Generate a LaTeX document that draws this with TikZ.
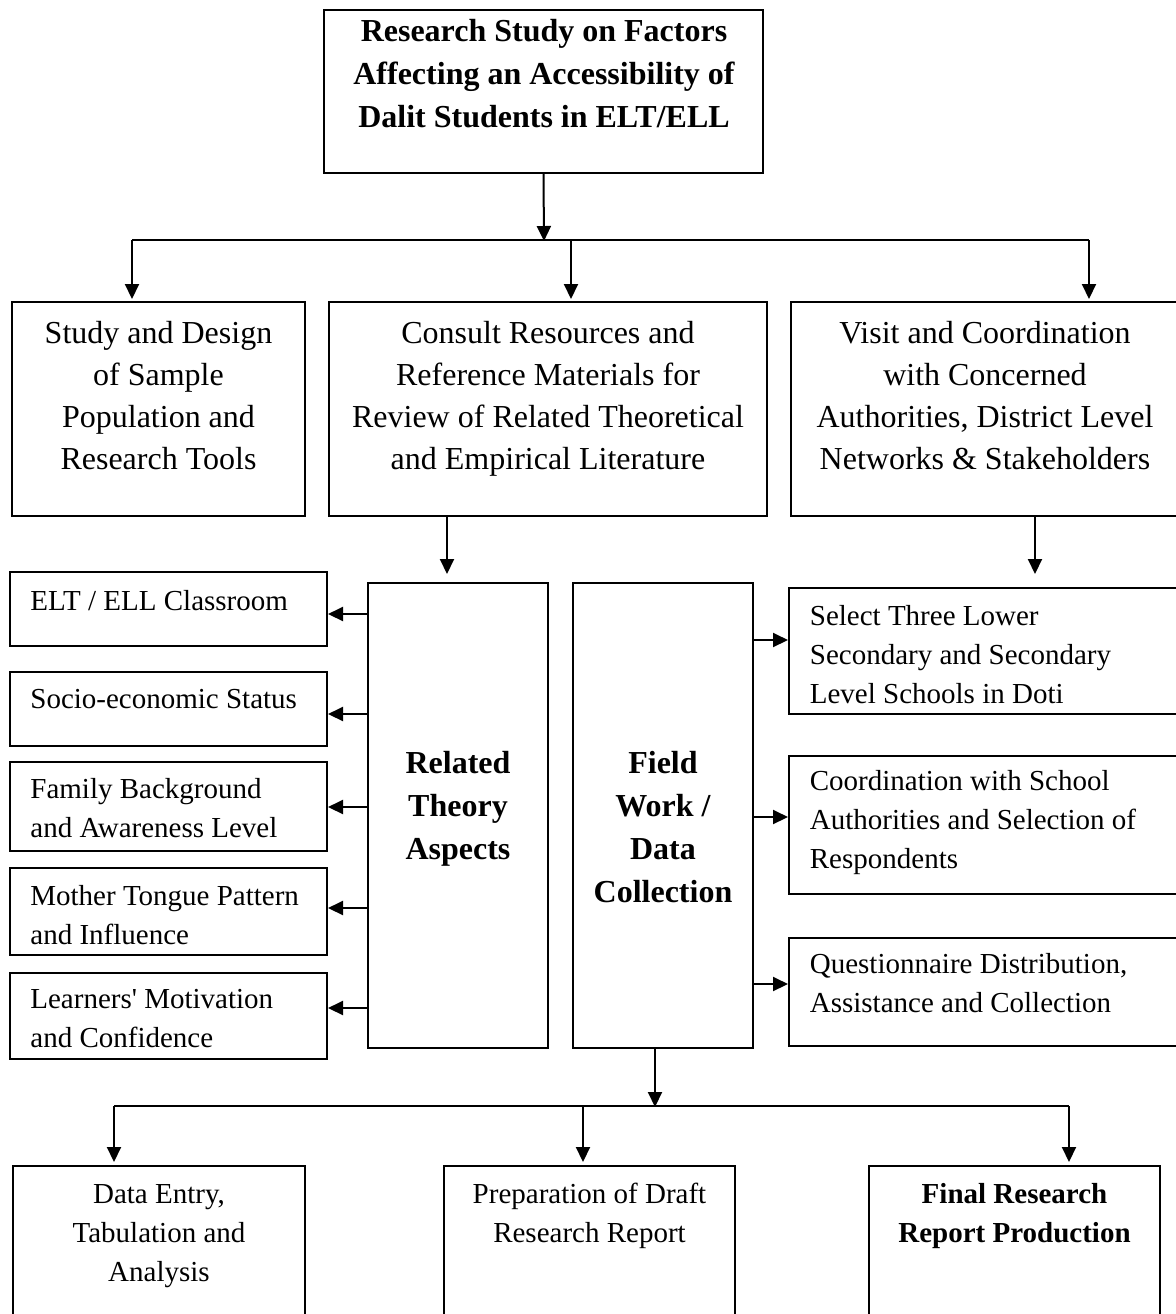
\documentclass[tikz,border=0pt]{standalone}
\usepackage{fontspec}
\setmainfont{Liberation Serif}[Ligatures=TeXOff]
\usetikzlibrary{arrows.meta,fit}
\newcommand\bigf{\fontsize{16}{21}\selectfont}
\newcommand\boldf{\fontsize{16}{21.5}\selectfont\bfseries}
\newcommand\smallf{\fontsize{14.5}{19.5}\selectfont}
\begin{document}
\begin{tikzpicture}[x=0.5pt,y=-0.5pt,
  box/.style={draw, line width=1pt, inner sep=0pt},
  arr/.style={line width=1pt, -{Triangle[length=7.5pt,width=7pt]}},
  ln/.style={line width=1pt},
  tc/.style={inner sep=0pt, anchor=north, align=center},
  tl/.style={inner sep=0pt, anchor=north west, align=left}]
\useasboundingbox (0,0) rectangle (1176,1314);
\clip (0,0) rectangle (1176,1314);
\fill[white] (0,0) rectangle (1176,1314);
% boxes
\node[box, fit={(324,10) (763,173)}] (top) {};
\node[box, fit={(12,302) (305,516)}] (b1) {};
\node[box, fit={(329,302) (767,516)}] (b2) {};
\node[box, fit={(791,302) (1186,516)}] (b3) {};
\node[box, fit={(368,583) (548,1048)}] (rel) {};
\node[box, fit={(573,583) (753,1048)}] (fld) {};
\node[box, fit={(10,572) (327,646)}] (l1) {};
\node[box, fit={(10,672) (327,746)}] (l2) {};
\node[box, fit={(10,762) (327,851)}] (l3) {};
\node[box, fit={(10,868) (327,955)}] (l4) {};
\node[box, fit={(10,973) (327,1059)}] (l5) {};
\node[box, fit={(789,588) (1186,714)}] (r1) {};
\node[box, fit={(789,756) (1186,894)}] (r2) {};
\node[box, fit={(789,938) (1186,1046)}] (r3) {};
\node[box, fit={(13,1166) (305,1340)}] (d1) {};
\node[box, fit={(444,1166) (735,1340)}] (d2) {};
\node[box, fit={(869,1166) (1160,1340)}] (d3) {};
% texts
\node[tc, font=\boldf] (ttop) at (544,11) {\strut Research Study on Factors\\Affecting an Accessibility of\\Dalit Students in ELT/ELL};
\node[tc, font=\bigf] (tb1) at (158.5,313.6) {\strut Study and Design\\of Sample\\Population and\\Research Tools};
\node[tc, font=\bigf] (tb2) at (548,313.6) {\strut Consult Resources and\\Reference Materials for\\Review of Related Theoretical\\and Empirical Literature};
\node[tc, font=\bigf] (tb3) at (985,313.6) {\strut Visit and Coordination\\with Concerned\\Authorities, District Level\\Networks \& Stakeholders};
\node[tc, font=\boldf] (trel) at (458,743) {\strut Related\\Theory\\Aspects};
\node[tc, font=\boldf] (tfld) at (663,743) {\strut Field\\Work /\\Data\\Collection};
\node[tl, font=\smallf] (tl1) at (30,582.7) {\strut ELT / ELL Classroom};
\node[tl, font=\smallf] (tl2) at (30,680.7) {\strut Socio-economic Status};
\node[tl, font=\smallf] (tl3) at (30,770.7) {\strut Family Background\\and Awareness Level};
\node[tl, font=\smallf] (tl4) at (30,877.7) {\strut Mother Tongue Pattern\\and Influence};
\begin{scope}
\clip (10,973) rectangle (327,1048);
\node[tl, font=\smallf] (tl5) at (30,980.7) {\strut Learners' Motivation\\and Confidence};
\end{scope}
\node[tl, font=\smallf] (tr1) at (809.5,597.7) {\strut Select Three Lower\\Secondary and Secondary\\Level Schools in Doti};
\node[tl, font=\smallf] (tr2) at (809.5,762.7) {\strut Coordination with School\\Authorities and Selection of\\Respondents};
\node[tl, font=\smallf] (tr3) at (809.5,945.7) {\strut Questionnaire Distribution,\\Assistance and Collection};
\node[tc, font=\smallf] (td1) at (159,1175.7) {\strut Data Entry,\\Tabulation and\\Analysis};
\node[tc, font=\smallf] (td2) at (589.5,1175.7) {\strut Preparation of Draft\\Research Report};
\node[tc, font=\smallf\bfseries] (td3) at (1014.5,1175.7) {\strut Final Research\\Report Production};
% top split
\coordinate (s0) at (544,241);
\coordinate (s1) at (132,240);
\coordinate (s2) at (571,240);
\coordinate (s3) at (1089,240);
\draw[arr] (top.south) -- (s0);
\draw[ln] (s1) -- (s3);
\draw[arr, shorten >=1pt] (s1) -- (s1 |- b1.north);
\draw[arr, shorten >=1pt] (s2) -- (s2 |- b2.north);
\draw[arr, shorten >=1pt] (s3) -- (s3 |- b3.north);
% middle
\coordinate (m1) at (447,516);
\coordinate (m2) at (1035,516);
\draw[arr, shorten >=4pt] (m1) -- (m1 |- rel.north);
\draw[arr, shorten >=6.5pt] (m2) -- (m2 |- r1.north);
% left arrows
\coordinate (a1) at (368,614);
\coordinate (a2) at (368,714);
\coordinate (a3) at (368,807);
\coordinate (a4) at (368,908);
\coordinate (a5) at (368,1008);
\draw[arr] (a1) -- (a1 -| l1.east);
\draw[arr] (a2) -- (a2 -| l2.east);
\draw[arr] (a3) -- (a3 -| l3.east);
\draw[arr] (a4) -- (a4 -| l4.east);
\draw[arr] (a5) -- (a5 -| l5.east);
% right arrows
\coordinate (c1) at (753,640);
\coordinate (c2) at (753,817);
\coordinate (c3) at (753,984);
\draw[arr] (c1) -- (c1 -| r1.west);
\draw[arr] (c2) -- (c2 -| r2.west);
\draw[arr] (c3) -- (c3 -| r3.west);
% bottom split
\coordinate (f1) at (655,1048);
\coordinate (f2) at (655,1107);
\coordinate (e1) at (114,1106);
\coordinate (e2) at (583,1106);
\coordinate (e3) at (1069,1106);
\draw[arr] (f1) -- (f2);
\draw[ln] (e1) -- (e3);
\draw[arr, shorten >=1.5pt] (e1) -- (e1 |- d1.north);
\draw[arr, shorten >=1.5pt] (e2) -- (e2 |- d2.north);
\draw[arr, shorten >=1.5pt] (e3) -- (e3 |- d3.north);
\end{tikzpicture}
\end{document}
